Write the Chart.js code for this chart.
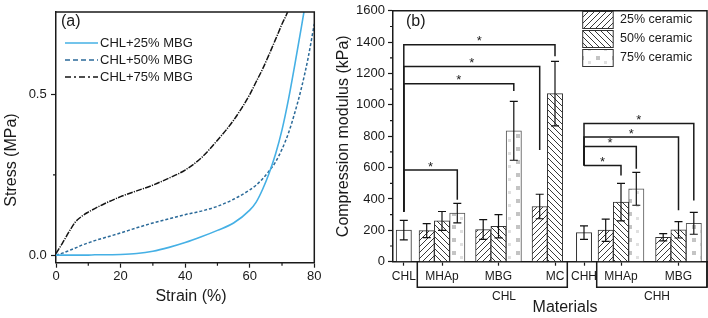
<!DOCTYPE html>
<html><head><meta charset="utf-8">
<script src="https://cdn.jsdelivr.net/npm/chart.js@4.4.0/dist/chart.umd.min.js"></script>
<style>
html,body{margin:0;padding:0;background:#fff;}
#wrap{position:relative;width:708px;height:318px;overflow:hidden;background:#fff}
canvas{position:absolute;top:0}
</style></head><body>
<div id="wrap">
<canvas id="ca" width="330" height="318" style="left:0"></canvas>
<canvas id="cb" width="378" height="318" style="left:330px"></canvas>
</div>
<script>
// ---------------- Panel (a) data ----------------
const strain   = [0,2,4,6,8,10,12,15,20,25,30,35,40,45,50,55,60,62,64,66,68,70,72,74,76,78,80];
const stress25 = [0,0,0,0,0,0,0.001,0.001,0.002,0.005,0.012,0.024,0.039,0.057,0.077,0.1,0.14,0.165,0.205,0.255,0.315,0.39,0.485,0.595,0.71,0.83,null];
const stress50 = [0,0.006,0.014,0.022,0.031,0.038,0.045,0.054,0.069,0.085,0.1,0.113,0.126,0.137,0.152,0.174,0.203,0.218,0.238,0.262,0.29,0.33,0.38,0.445,0.52,0.61,0.72];
const stress75 = [0.005,0.037,0.072,0.103,0.121,0.134,0.145,0.16,0.182,0.2,0.218,0.24,0.265,0.303,0.358,0.42,0.5,0.54,0.58,0.625,0.672,0.72,0.765,0.84,null,null,null];
const seriesA  = ['CHL+25% MBG','CHL+50% MBG','CHL+75% MBG'];
const xTicksA  = [0,20,40,60,80];
const xMinorA  = [10,30,50,70];
const yTicksA  = [0,0.5];
const yMinorA  = [0.25];

// ---------------- Panel (b) data ----------------
const categories = ['CHL','MHAp','MBG','MC','CHH','MHAp','MBG'];
const groupNames = ['CHL','CHH'];
const seriesB = ['25% ceramic','50% ceramic','75% ceramic'];
const modPure = [201,null,null,null,185,null,null];
const mod25   = [null,198,205,352,null,201,156];
const mod50   = [null,260,226,1072,null,380,203];
const mod75   = [null,310,835,null,null,465,245];
const errPure = [62,null,null,null,43,null,null];
const err25   = [null,45,63,78,null,71,23];
const err50   = [null,60,74,206,null,120,52];
const err75   = [null,62,188,null,null,105,70];
const yTicksB = [0,200,400,600,800,1000,1200,1400,1600];
const yMinorB = [100,300,500,700,900,1100,1300,1500];
// significance brackets: from category -> (category, series), level, end of drop, end of stem (kPa)
const sigFrom     = [0,0,0,0,4,4,4,4];
const sigToCat    = [3,3,2,1,6,6,5,5];
const sigToSeries = [2,1,3,3,3,2,3,2];
const sigLevel    = [1384,1245,1134,585,881,795,735,613];
const sigDropEnd  = [1310,712,1088,395,391,328,592,549];
const sigStemEnd  = [318,318,318,318,613,613,613,613];

// ---------------- layout (not data) ----------------
const catPos = [10.8,49,105.5,162,191,228,285.5];
const slotOffset = [0,-15.3,0,15.3];
const groupFrom = [24.3,203.7], groupTo = [174.3,314], groupLabelX = [111,264];

Chart.defaults.font.family = "'Liberation Sans', Arial, Helvetica, sans-serif";
Chart.defaults.color = '#1a1a1a';
const INK = '#1a1a1a';

// ---------- Chart (a) ----------
const ptsA = arr => strain.map((x,i)=>({x, y: arr[i]})).filter(p=>p.y!==null);
const plugA = {
  id:'plugA',
  afterDraw(chart){
    const {ctx, chartArea:a, scales:{x,y}} = chart;
    ctx.save();
    ctx.strokeStyle = INK; ctx.lineWidth = 1.5;
    ctx.beginPath(); ctx.moveTo(a.left,a.top); ctx.lineTo(a.right,a.top); ctx.lineTo(a.right,a.bottom); ctx.stroke();
    ctx.lineWidth = 1.2; ctx.beginPath();
    xMinorA.forEach(v=>{const p=x.getPixelForValue(v); ctx.moveTo(p,a.bottom); ctx.lineTo(p,a.bottom+3);});
    yMinorA.forEach(v=>{const p=y.getPixelForValue(v); ctx.moveTo(a.left,p); ctx.lineTo(a.left-3,p);});
    ctx.stroke();
    // legend
    ctx.font = "13px 'Liberation Sans', Arial, sans-serif";
    ctx.textBaseline = 'middle'; ctx.textAlign = 'left'; ctx.fillStyle = INK;
    const legDash = [[], [5,3], [6,3,2,3]];
    chart.data.datasets.forEach((ds,i)=>{
      const yy = 43 + i*17;
      ctx.save();
      ctx.strokeStyle = ds.borderColor; ctx.lineWidth = ds.borderWidth;
      ctx.setLineDash(legDash[i]);
      ctx.beginPath(); ctx.moveTo(65,yy); ctx.lineTo(98,yy); ctx.stroke();
      ctx.restore();
      ctx.fillText(ds.label, 100, yy);
    });
    ctx.font = "16px 'Liberation Sans', Arial, sans-serif";
    ctx.fillText('(a)', 61, 22);
    // axis titles
    ctx.textAlign = 'center';
    ctx.fillText('Strain (%)', 191, 297);
    ctx.save(); ctx.translate(12,160); ctx.rotate(-Math.PI/2); ctx.fillText('Stress (MPa)',0,0); ctx.restore();
    ctx.restore();
  }
};
new Chart(document.getElementById('ca'), {
  type:'line',
  data:{datasets:[
    {label:seriesA[0], data:ptsA(stress25), borderColor:'#45b0e5', borderWidth:1.6, pointRadius:0, cubicInterpolationMode:'monotone'},
    {label:seriesA[1], data:ptsA(stress50), borderColor:'#2b6a99', borderWidth:1.5, borderDash:[3,2], pointRadius:0, cubicInterpolationMode:'monotone'},
    {label:seriesA[2], data:ptsA(stress75), borderColor:'#151515', borderWidth:1.5, borderDash:[6,1.2,1.2,1.2], pointRadius:0, cubicInterpolationMode:'monotone'}
  ]},
  options:{
    responsive:false, animation:false,
    layout:{padding:{left:0,top:9,right:15.7,bottom:0}},
    plugins:{legend:{display:false}, tooltip:{enabled:false}},
    scales:{
      x:{type:'linear', min:0, max:80,
        afterBuildTicks:s=>{s.ticks = xTicksA.map(v=>({value:v}));},
        afterFit:s=>{s.height = 55.3;},
        ticks:{font:{size:13}, color:INK, padding:1.2, maxRotation:0, autoSkip:false, callback:v=>String(v)},
        grid:{drawOnChartArea:false, tickLength:5, tickColor:INK, tickWidth:1.2},
        border:{color:INK, width:1.5}},
      y:{type:'linear', min:-0.0237, max:0.757,
        afterBuildTicks:s=>{s.ticks = yTicksA.map(v=>({value:v}));},
        afterFit:s=>{s.width = 56;},
        ticks:{font:{size:13}, color:INK, padding:4.3, callback:v=>Number(v).toFixed(1)},
        grid:{drawOnChartArea:false, tickLength:5, tickColor:INK, tickWidth:1.2},
        border:{color:INK, width:1.5}}
    }
  },
  plugins:[plugA]
});

// ---------- Chart (b) ----------
function hatch(dir){
  const c = document.createElement('canvas'); c.width=6; c.height=6;
  const g = c.getContext('2d'); g.fillStyle='#fff'; g.fillRect(0,0,6,6);
  g.strokeStyle='#222'; g.lineWidth=0.9; g.beginPath();
  if(dir>0){ g.moveTo(-1,7); g.lineTo(7,-1); g.moveTo(-1,1); g.lineTo(1,-1); g.moveTo(5,7); g.lineTo(7,5); }
  else { g.moveTo(-1,-1); g.lineTo(7,7); g.moveTo(-1,5); g.lineTo(1,7); g.moveTo(5,-1); g.lineTo(7,1); }
  g.stroke();
  return g.createPattern(c,'repeat');
}
function dots(){
  const c = document.createElement('canvas'); c.width=16; c.height=13;
  const g = c.getContext('2d'); g.fillStyle='#fff'; g.fillRect(0,0,16,13);
  g.fillStyle='#c4c4c4'; g.fillRect(10,4,4,4);
  g.fillStyle='#e0e0e0'; g.fillRect(2,9,3,3);
  return g.createPattern(c,'repeat');
}
const fills = ['#ffffff', hatch(1), hatch(-1), dots()];
function barPts(vals, errs, s){
  const out=[]; vals.forEach((v,i)=>{ if(v!==null) out.push({x:catPos[i]+slotOffset[s], y:v, err:errs[i]}); });
  return out;
}
const plugB = {
  id:'plugB',
  afterDatasetsDraw(chart){
    const {ctx, scales:{y}} = chart;
    ctx.save(); ctx.strokeStyle='#111'; ctx.lineWidth=1.2;
    chart.data.datasets.forEach((ds,i)=>{
      const meta = chart.getDatasetMeta(i);
      meta.data.forEach((el,j)=>{
        const d = ds.data[j]; if(d.err==null) return;
        const t = y.getPixelForValue(d.y+d.err), b = y.getPixelForValue(d.y-d.err), cx = el.x;
        ctx.beginPath();
        ctx.moveTo(cx,t); ctx.lineTo(cx,b);
        ctx.moveTo(cx-4,t); ctx.lineTo(cx+4,t);
        ctx.moveTo(cx-4,b); ctx.lineTo(cx+4,b);
        ctx.stroke();
      });
    });
    ctx.restore();
  },
  afterDraw(chart){
    const {ctx, chartArea:a, scales:{x,y}} = chart;
    ctx.save();
    ctx.strokeStyle=INK; ctx.lineWidth=1.5;
    const boxBottom = a.bottom + 25.6;
    ctx.beginPath(); ctx.moveTo(a.left,a.top); ctx.lineTo(a.right,a.top); ctx.lineTo(a.right,boxBottom); ctx.stroke();
    ctx.beginPath();
    groupNames.forEach((g,i)=>{
      const l = x.getPixelForValue(groupFrom[i]), r = x.getPixelForValue(groupTo[i]);
      ctx.moveTo(l,a.bottom); ctx.lineTo(l,boxBottom); ctx.lineTo(r,boxBottom); ctx.lineTo(r,a.bottom);
    });
    ctx.stroke();
    ctx.lineWidth=1.2; ctx.beginPath();
    yMinorB.forEach(v=>{const p=y.getPixelForValue(v); ctx.moveTo(a.left,p); ctx.lineTo(a.left-3,p);});
    ctx.stroke();
    ctx.lineWidth=1.5; ctx.strokeStyle='#1a1a1a'; ctx.fillStyle=INK;
    ctx.font = "13px 'Liberation Sans', Arial, sans-serif"; ctx.textAlign='center'; ctx.textBaseline='alphabetic';
    sigLevel.forEach((lv,i)=>{
      const x0 = x.getPixelForValue(catPos[sigFrom[i]]);
      const x1 = x.getPixelForValue(catPos[sigToCat[i]] + slotOffset[sigToSeries[i]]);
      const yl = y.getPixelForValue(lv);
      ctx.beginPath();
      ctx.moveTo(x0, y.getPixelForValue(sigStemEnd[i])); ctx.lineTo(x0, yl); ctx.lineTo(x1, yl);
      ctx.lineTo(x1, y.getPixelForValue(sigDropEnd[i]));
      ctx.stroke();
      ctx.fillText('*', (x0+x1)/2, yl - 7 + 7.6);
    });
    ctx.font = "12px 'Liberation Sans', Arial, sans-serif"; ctx.textBaseline='middle';
    groupNames.forEach((g,i)=> ctx.fillText(g, x.getPixelForValue(groupLabelX[i]), 296.7));
    ctx.font = "16px 'Liberation Sans', Arial, sans-serif";
    ctx.fillText('Materials', 565-330, 307.5);
    ctx.textAlign='left';
    ctx.fillText('(b)', 76, 22);
    ctx.font = "12.5px 'Liberation Sans', Arial, sans-serif";
    seriesB.forEach((s,i)=>{
      const ds = chart.data.datasets[i+1];
      const yy = 11.5 + i*19;
      ctx.fillStyle = ds.backgroundColor; ctx.fillRect(252.7, yy, 30.5, 17);
      ctx.strokeStyle = '#333'; ctx.lineWidth = 1; ctx.strokeRect(252.7, yy, 30.5, 17);
      ctx.fillStyle = INK; ctx.fillText(s, 290, yy+8.5);
    });
    ctx.restore();
  }
};
new Chart(document.getElementById('cb'), {
  type:'bar',
  data:{datasets:[
    {label:'', data:barPts(modPure,errPure,0), backgroundColor:fills[0], borderColor:'#333', borderWidth:1, barThickness:15.3, grouped:false},
    {label:seriesB[0], data:barPts(mod25,err25,1), backgroundColor:fills[1], borderColor:'#333', borderWidth:1, barThickness:15.3, grouped:false},
    {label:seriesB[1], data:barPts(mod50,err50,2), backgroundColor:fills[2], borderColor:'#333', borderWidth:1, barThickness:15.3, grouped:false},
    {label:seriesB[2], data:barPts(mod75,err75,3), backgroundColor:fills[3], borderColor:'#555', borderWidth:1, barThickness:15.3, grouped:false}
  ]},
  options:{
    responsive:false, animation:false,
    layout:{padding:{left:0,top:9.3,right:1,bottom:0}},
    plugins:{legend:{display:false}, tooltip:{enabled:false}},
    scales:{
      x:{type:'linear', min:0, max:314, offset:false,
        afterBuildTicks:s=>{s.ticks = catPos.map(v=>({value:v}));},
        afterFit:s=>{s.height = 56.3;},
        ticks:{font:{size:12}, color:INK, padding:3.8, maxRotation:0, autoSkip:false,
          callback:(v,i)=>categories[i]},
        grid:{drawOnChartArea:false, offset:false, tickLength:4, tickColor:INK, tickWidth:1.2},
        border:{color:INK, width:1.5}},
      y:{type:'linear', min:0, max:1600,
        afterBuildTicks:s=>{s.ticks = yTicksB.map(v=>({value:v}));},
        afterFit:s=>{s.width = 63;},
        ticks:{font:{size:13}, color:INK, padding:3, callback:v=>String(v)},
        grid:{drawOnChartArea:false, tickLength:5, tickColor:INK, tickWidth:1.2},
        border:{color:INK, width:1.5},
        title:{display:true, text:'Compression modulus (kPa)', font:{size:16}, color:INK, padding:{top:3.9,bottom:0}}}
    }
  },
  plugins:[plugB]
});
</script>
</body></html>
